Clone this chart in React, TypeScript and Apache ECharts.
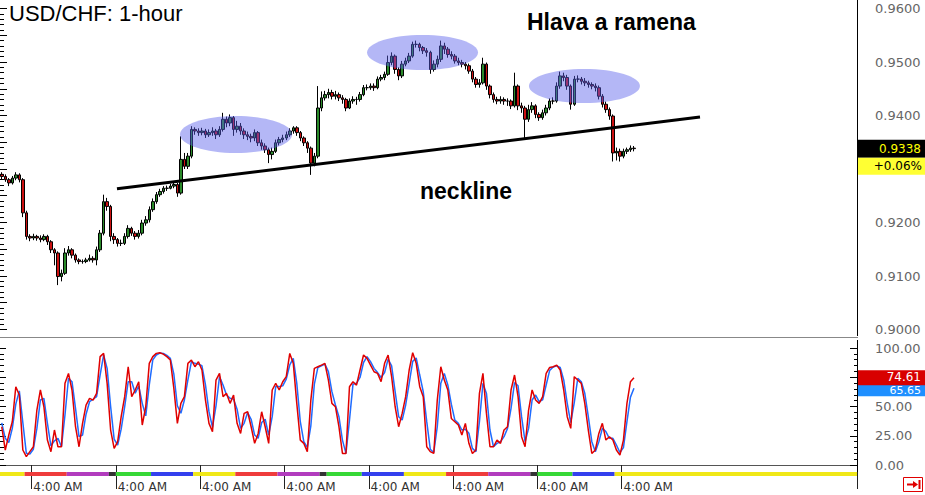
import React, { useEffect, useRef } from "react";
import * as echarts from "echarts";

// ---------- axis categories (hourly bars, first bar = 7 PM) ----------
const SLOTS = 244;
const FIRST_HOUR = 19;
const hourOf = (i: number) => (FIRST_HOUR + i) % 24;
const categories: string[] = Array.from({ length: SLOTS }, (_, i) => {
  const h = hourOf(i);
  const h12 = h % 12 === 0 ? 12 : h % 12;
  return `${h12}:00 ${h < 12 ? "AM" : "PM"}`;
});

// ---------- price data (USD/CHF 1-hour) ----------
const firstOpen = 0.929;
const closes = [
  0.9286, 0.9280, 0.9274, 0.9283, 0.9289, 0.9280, 0.9218, 0.9174, 0.9171, 0.9174,
  0.9171, 0.9168, 0.9174, 0.9164, 0.9149, 0.9143, 0.9099, 0.9105, 0.9143, 0.9149,
  0.9139, 0.9130, 0.9127, 0.9127, 0.9130, 0.9133, 0.9130, 0.9149, 0.9180, 0.9239,
  0.9230, 0.9174, 0.9168, 0.9161, 0.9161, 0.9174, 0.9189, 0.9180, 0.9174, 0.9180,
  0.9199, 0.9205, 0.9224, 0.9239, 0.9252, 0.9258, 0.9264, 0.9264, 0.9268, 0.9271,
  0.9255, 0.9318, 0.9305, 0.9324, 0.9374, 0.9371, 0.9368, 0.9371, 0.9364, 0.9368,
  0.9371, 0.9364, 0.9374, 0.9393, 0.9386, 0.9396, 0.9374, 0.9380, 0.9371, 0.9364,
  0.9361, 0.9358, 0.9368, 0.9349, 0.9343, 0.9336, 0.9327, 0.9333, 0.9349, 0.9355,
  0.9358, 0.9364, 0.9371, 0.9377, 0.9368, 0.9358, 0.9349, 0.9339, 0.9311, 0.9324,
  0.9414, 0.9433, 0.9439, 0.9443, 0.9436, 0.9439, 0.9433, 0.9430, 0.9414, 0.9427,
  0.9430, 0.9430, 0.9439, 0.9452, 0.9452, 0.9455, 0.9452, 0.9468, 0.9471, 0.9477,
  0.9499, 0.9511, 0.9486, 0.9474, 0.9496, 0.9502, 0.9511, 0.9533, 0.9533, 0.9527,
  0.9521, 0.9518, 0.9486, 0.9496, 0.9505, 0.9530, 0.9524, 0.9514, 0.9511, 0.9502,
  0.9499, 0.9496, 0.9493, 0.9483, 0.9468, 0.9458, 0.9461, 0.9496, 0.9455, 0.9439,
  0.9430, 0.9427, 0.9430, 0.9427, 0.9427, 0.9418, 0.9455, 0.9418, 0.9414, 0.9393,
  0.9411, 0.9418, 0.9402, 0.9396, 0.9405, 0.9414, 0.9427, 0.9427, 0.9455, 0.9474,
  0.9471, 0.9455, 0.9421, 0.9468, 0.9468, 0.9464, 0.9461, 0.9458, 0.9455, 0.9452,
  0.9436, 0.9421, 0.9411, 0.9399, 0.9330, 0.9333, 0.9324, 0.9333, 0.9336, 0.9339,
  0.9338,
];
const highs = [
  0.9294, 0.9290, 0.9283, 0.9287, 0.9294, 0.9292, 0.9283, 0.9222, 0.9178, 0.9179,
  0.9177, 0.9176, 0.9178, 0.9177, 0.9167, 0.9152, 0.9146, 0.9112, 0.9152, 0.9156,
  0.9152, 0.9142, 0.9133, 0.9131, 0.9134, 0.9140, 0.9137, 0.9155, 0.9186, 0.9252,
  0.9246, 0.9233, 0.9180, 0.9171, 0.9168, 0.9180, 0.9195, 0.9192, 0.9184, 0.9186,
  0.9205, 0.9212, 0.9230, 0.9245, 0.9257, 0.9263, 0.9268, 0.9269, 0.9272, 0.9276,
  0.9274, 0.9361, 0.9330, 0.9330, 0.9380, 0.9378, 0.9376, 0.9377, 0.9375, 0.9374,
  0.9378, 0.9375, 0.9380, 0.9405, 0.9398, 0.9402, 0.9399, 0.9390, 0.9386, 0.9376,
  0.9370, 0.9366, 0.9374, 0.9371, 0.9355, 0.9348, 0.9340, 0.9340, 0.9355, 0.9360,
  0.9364, 0.9370, 0.9376, 0.9380, 0.9380, 0.9371, 0.9361, 0.9352, 0.9342, 0.9330,
  0.9455, 0.9445, 0.9446, 0.9450, 0.9448, 0.9446, 0.9443, 0.9438, 0.9433, 0.9432,
  0.9436, 0.9435, 0.9444, 0.9457, 0.9458, 0.9460, 0.9460, 0.9473, 0.9476, 0.9482,
  0.9512, 0.9518, 0.9514, 0.9490, 0.9502, 0.9508, 0.9517, 0.9538, 0.9540, 0.9536,
  0.9530, 0.9526, 0.9521, 0.9503, 0.9512, 0.9540, 0.9536, 0.9528, 0.9520, 0.9515,
  0.9508, 0.9504, 0.9500, 0.9497, 0.9487, 0.9472, 0.9468, 0.9508, 0.9499, 0.9458,
  0.9443, 0.9435, 0.9436, 0.9434, 0.9432, 0.9430, 0.9480, 0.9458, 0.9424, 0.9418,
  0.9420, 0.9425, 0.9421, 0.9406, 0.9411, 0.9420, 0.9432, 0.9434, 0.9462, 0.9482,
  0.9480, 0.9476, 0.9458, 0.9474, 0.9475, 0.9472, 0.9470, 0.9465, 0.9462, 0.9460,
  0.9456, 0.9440, 0.9426, 0.9415, 0.9402, 0.9340, 0.9338, 0.9338, 0.9340, 0.9344,
  0.9343,
];
const lows = [
  0.9281, 0.9276, 0.9268, 0.9271, 0.9279, 0.9275, 0.9210, 0.9168, 0.9165, 0.9167,
  0.9166, 0.9163, 0.9165, 0.9158, 0.9143, 0.9120, 0.9083, 0.9090, 0.9102, 0.9138,
  0.9133, 0.9125, 0.9122, 0.9123, 0.9124, 0.9127, 0.9125, 0.9120, 0.9145, 0.9176,
  0.9222, 0.9165, 0.9160, 0.9155, 0.9156, 0.9158, 0.9170, 0.9175, 0.9168, 0.9170,
  0.9176, 0.9194, 0.9200, 0.9220, 0.9235, 0.9248, 0.9254, 0.9259, 0.9262, 0.9264,
  0.9248, 0.9252, 0.9300, 0.9300, 0.9320, 0.9364, 0.9362, 0.9363, 0.9358, 0.9360,
  0.9362, 0.9356, 0.9360, 0.9370, 0.9378, 0.9380, 0.9362, 0.9368, 0.9364, 0.9356,
  0.9354, 0.9350, 0.9352, 0.9343, 0.9336, 0.9330, 0.9311, 0.9318, 0.9330, 0.9344,
  0.9350, 0.9354, 0.9360, 0.9366, 0.9362, 0.9352, 0.9343, 0.9330, 0.9289, 0.9305,
  0.9320, 0.9408, 0.9428, 0.9432, 0.9430, 0.9430, 0.9427, 0.9422, 0.9408, 0.9412,
  0.9422, 0.9420, 0.9426, 0.9436, 0.9447, 0.9448, 0.9446, 0.9449, 0.9464, 0.9466,
  0.9474, 0.9494, 0.9478, 0.9466, 0.9470, 0.9492, 0.9498, 0.9508, 0.9527, 0.9520,
  0.9515, 0.9510, 0.9478, 0.9482, 0.9490, 0.9500, 0.9515, 0.9508, 0.9505, 0.9497,
  0.9494, 0.9490, 0.9486, 0.9478, 0.9462, 0.9452, 0.9452, 0.9458, 0.9448, 0.9432,
  0.9424, 0.9421, 0.9422, 0.9420, 0.9418, 0.9412, 0.9415, 0.9410, 0.9405, 0.9358,
  0.9388, 0.9405, 0.9395, 0.9390, 0.9392, 0.9400, 0.9410, 0.9421, 0.9424, 0.9450,
  0.9464, 0.9448, 0.9411, 0.9418, 0.9462, 0.9458, 0.9455, 0.9452, 0.9449, 0.9445,
  0.9430, 0.9415, 0.9405, 0.9392, 0.9314, 0.9316, 0.9314, 0.9320, 0.9328, 0.9332,
  0.9333,
];
const priceChange = "+0.06%";

// ---------- stochastic oscillator ----------
const stochK = [
  32.7, 12.8, 25.6, 37.0, 66.9, 59.8, 12.8, 7.1, 11.4, 15.6,
  47.0, 64.1, 49.8, 21.3, 11.4, 29.9, 15.6, 15.6, 69.8, 78.3,
  64.1, 32.7, 15.6, 35.6, 51.2, 56.9, 55.5, 61.2, 92.6, 95.4,
  69.8, 29.9, 14.2, 19.9, 41.3, 58.4, 84.0, 58.4, 64.1, 71.2,
  34.2, 49.8, 86.9, 92.6, 95.4, 96.0, 94.8, 92.6, 89.7, 65.5,
  35.6, 52.7, 58.4, 86.9, 89.7, 84.0, 88.3, 81.2, 55.5, 35.6,
  28.5, 72.6, 78.3, 58.4, 61.2, 52.7, 59.8, 35.6, 27.0, 44.1,
  45.5, 32.7, 18.5, 27.0, 45.5, 32.7, 18.5, 64.1, 69.8, 64.1,
  71.2, 75.5, 95.4, 86.9, 52.7, 21.3, 18.5, 11.4, 55.5, 82.6,
  84.0, 85.4, 86.9, 72.6, 52.7, 49.8, 32.7, 9.9, 9.9, 66.9,
  71.2, 68.3, 81.2, 94.0, 91.1, 85.4, 79.7, 78.3, 71.2, 86.9,
  94.0, 75.5, 49.8, 32.7, 44.1, 58.4, 81.2, 96.0, 86.9, 66.9,
  58.4, 15.6, 11.4, 9.9, 55.5, 84.0, 72.6, 64.1, 39.8, 37.0,
  34.2, 25.6, 35.6, 18.5, 9.9, 12.8, 61.2, 78.3, 44.1, 15.6,
  15.6, 21.3, 18.5, 29.9, 32.7, 64.1, 76.9, 58.4, 24.2, 15.6,
  47.0, 64.1, 55.5, 52.7, 58.4, 78.3, 83.4, 84.0, 85.4, 81.2,
  64.1, 41.3, 31.3, 75.5, 72.6, 69.8, 52.7, 29.9, 9.9, 12.8,
  27.0, 35.6, 21.3, 24.2, 21.3, 12.8, 8.5, 21.3, 52.7, 71.2,
  74.61,
];
const stochD = [
  36.0, 22.8, 19.2, 31.3, 52.0, 63.4, 36.3, 10.0, 9.3, 13.5,
  31.3, 55.6, 57.0, 35.6, 16.4, 20.7, 22.8, 15.6, 42.7, 74.1,
  71.2, 48.4, 24.2, 25.6, 43.4, 54.1, 56.2, 58.4, 76.9, 94.0,
  82.6, 49.9, 22.1, 17.1, 30.6, 49.9, 71.2, 71.2, 61.3, 67.7,
  52.7, 42.0, 68.4, 89.8, 94.0, 95.7, 95.4, 93.7, 91.2, 77.6,
  50.6, 44.2, 55.6, 72.7, 88.3, 86.9, 86.2, 84.8, 68.4, 45.6,
  32.1, 50.6, 75.5, 68.4, 59.8, 57.0, 56.3, 47.7, 31.3, 35.6,
  44.8, 39.1, 25.6, 22.8, 36.3, 39.1, 25.6, 41.3, 67.0, 67.0,
  67.7, 73.4, 85.5, 91.2, 69.8, 37.0, 19.9, 15.0, 33.5, 69.1,
  83.3, 84.7, 86.2, 79.8, 62.7, 51.3, 41.3, 21.3, 9.9, 38.4,
  69.1, 69.8, 74.8, 87.6, 92.6, 88.3, 82.6, 79.0, 74.8, 79.1,
  90.5, 84.8, 62.7, 41.3, 38.4, 51.3, 69.8, 88.6, 91.5, 76.9,
  62.7, 37.0, 13.5, 10.7, 32.7, 69.8, 78.3, 68.4, 52.0, 38.4,
  35.6, 29.9, 30.6, 27.1, 14.2, 11.4, 37.0, 69.8, 61.2, 29.9,
  15.6, 18.5, 19.9, 24.2, 31.3, 48.4, 70.5, 67.7, 41.3, 19.9,
  31.3, 55.6, 59.8, 54.1, 55.6, 68.4, 80.9, 83.7, 84.7, 83.3,
  72.7, 52.7, 36.3, 53.4, 74.1, 71.2, 61.3, 41.3, 19.9, 11.4,
  19.9, 31.3, 28.5, 22.8, 22.8, 17.1, 10.7, 14.9, 37.0, 58.0,
  65.65,
];

// ---------- annotations (bar index, price) ----------
const neckline = [
  [32.8, 0.9263],
  [198.8, 0.9397],
];
// [centre index, centre price, half-width in bars, half-height in price]
const shoulders = [
  [66.7, 0.93645, 15.95, 0.00346],
  [119.8, 0.95178, 15.8, 0.00327],
  [165.9, 0.94551, 15.8, 0.00318],
];

// ---------- trading-session strip ----------
const sessionColors = ["#f0e818", "#ef3c3c", "#b23cbe", "#333333", "#36d836", "#3340ee"];
const sessions = [
  [0, 7, 0], [7, 19, 1], [19, 31, 2], [31, 33, 3], [33, 43, 4], [43, 55, 5],
  [55, 67, 0], [67, 79, 1], [79, 91, 2], [91, 93, 3], [93, 103, 4], [103, 115, 5],
  [115, 127, 0], [127, 139, 1], [139, 151, 2], [151, 153, 3], [153, 163, 4], [163, 175, 5],
  [175, 244, 0],
];

const LAST = closes.length - 1;
const showDayMark = (i: number) => i <= LAST && hourOf(i) === 4;
const candles = closes.map((c, i) => [i === 0 ? firstOpen : closes[i - 1], c, lows[i], highs[i]]);

const axisFont = "DejaVu Sans";

function buildOption() {
  return {
    animation: false,
    backgroundColor: "#ffffff",
    grid: [
      { left: 0, top: 8.5, width: 857, height: 321, outerBoundsMode: "none" },
      { left: 0, top: 348, width: 857, height: 117, outerBoundsMode: "none" },
      { left: 0, top: 472, width: 857, height: 4, outerBoundsMode: "none" },
    ],
    xAxis: [
      { type: "category", gridIndex: 0, data: categories, boundaryGap: true, show: false },
      { type: "value", gridIndex: 0, min: -0.5, max: SLOTS - 0.5, show: false },
      {
        type: "category",
        gridIndex: 1,
        data: categories,
        boundaryGap: true,
        offset: 6,
        axisLine: { show: true, lineStyle: { color: "#555", width: 1 } },
        axisTick: {
          show: true,
          interval: (i: number) => showDayMark(i),
          length: 24,
          lineStyle: { color: "#222", width: 1 },
        },
        axisLabel: {
          show: true,
          interval: (i: number) => showDayMark(i),
          align: "left",
          margin: 10,
          fontFamily: axisFont,
          fontSize: 12,
          color: "#333",
        },
        splitLine: { show: false },
      },
      { type: "value", gridIndex: 2, min: 0, max: SLOTS, show: false },
    ],
    yAxis: [
      {
        type: "value",
        gridIndex: 0,
        position: "right",
        min: 0.9,
        max: 0.96,
        interval: 0.01,
        axisLine: { show: false },
        axisTick: { show: true, inside: true, length: 7, lineStyle: { color: "#000" } },
        minorTick: { show: true, splitNumber: 10, length: 3, lineStyle: { color: "#000" } },
        axisLabel: {
          margin: 18,
          fontFamily: axisFont,
          fontSize: 13,
          color: "#666",
          // the label under the last-price tag is covered by it
          formatter: (v: number) => (Math.abs(v - closes[LAST]) < 0.005 ? "" : v.toFixed(4)),
        },
        splitLine: { show: false },
      },
      {
        type: "value",
        gridIndex: 0,
        position: "left",
        min: 0.9,
        max: 0.96,
        interval: 0.005,
        axisLine: { show: false },
        axisTick: { show: true, inside: true, length: 7, lineStyle: { color: "#000" } },
        minorTick: { show: true, splitNumber: 5, length: 4, lineStyle: { color: "#000" } },
        axisLabel: { show: false },
        splitLine: { show: false },
      },
      {
        type: "value",
        gridIndex: 1,
        position: "right",
        min: 0,
        max: 100,
        interval: 25,
        axisLine: { show: false },
        axisTick: { show: true, inside: true, length: 7, lineStyle: { color: "#000" } },
        minorTick: { show: true, splitNumber: 5, length: 3, lineStyle: { color: "#000" } },
        axisLabel: {
          margin: 18,
          fontFamily: axisFont,
          fontSize: 13,
          color: "#666",
          // the label under the oscillator tags is covered by them
          formatter: (v: number) => (Math.abs(v - stochK[LAST]) < 10 ? "" : v.toFixed(2)),
        },
        splitLine: { show: false },
      },
      {
        type: "value",
        gridIndex: 1,
        position: "left",
        min: 0,
        max: 100,
        interval: 25,
        axisLine: { show: false },
        axisTick: { show: true, inside: true, length: 6, lineStyle: { color: "#000" } },
        minorTick: { show: true, splitNumber: 5, length: 4, lineStyle: { color: "#000" } },
        axisLabel: { show: false },
        splitLine: { show: false },
      },
      { type: "value", gridIndex: 2, min: 0, max: 1, show: false },
    ],
    series: [
      {
        type: "candlestick",
        xAxisIndex: 0,
        yAxisIndex: 0,
        data: candles,
        barWidth: 3,
        z: 2,
        itemStyle: {
          color: "#2a8a2a",
          color0: "#cc1111",
          borderColor: "#000",
          borderColor0: "#000",
          borderWidth: 1,
        },
      },
      {
        type: "custom",
        xAxisIndex: 1,
        yAxisIndex: 0,
        data: shoulders,
        z: 4,
        clip: false,
        silent: true,
        renderItem: (_p: any, api: any) => {
          const c = api.coord([api.value(0), api.value(1)]);
          const s = api.size([api.value(2), api.value(3)]);
          return {
            type: "ellipse",
            shape: { cx: c[0], cy: c[1], rx: s[0], ry: s[1] },
            style: { fill: "rgba(88,96,236,0.45)" },
          };
        },
      },
      {
        type: "line",
        xAxisIndex: 1,
        yAxisIndex: 0,
        data: neckline,
        symbol: "none",
        z: 5,
        lineStyle: { color: "#000", width: 3 },
      },
      {
        type: "line",
        xAxisIndex: 2,
        yAxisIndex: 2,
        data: stochD,
        symbol: "none",
        z: 2,
        lineStyle: { color: "#1f6cff", width: 1.5 },
      },
      {
        type: "line",
        xAxisIndex: 2,
        yAxisIndex: 2,
        data: stochK,
        symbol: "none",
        z: 3,
        lineStyle: { color: "#e00000", width: 1.5 },
      },
      {
        type: "custom",
        xAxisIndex: 3,
        yAxisIndex: 4,
        data: sessions,
        encode: { x: [0, 1] },
        clip: false,
        silent: true,
        z: 6,
        renderItem: (_p: any, api: any) => {
          const a = api.coord([api.value(0), 1]);
          const b = api.coord([api.value(1), 0]);
          return {
            type: "rect",
            shape: { x: a[0], y: a[1], width: b[0] - a[0], height: b[1] - a[1] },
            style: { fill: sessionColors[api.value(2)] },
          };
        },
      },
    ],
  };
}

function buildGraphic(yPrice: number, yK: number, yD: number) {
  const sans = '"Liberation Sans", Arial, sans-serif';
  return [
    // panel frames
    { type: "line", z: 20, shape: { x1: 857.5, y1: 0, x2: 857.5, y2: 336 }, style: { stroke: "#000", lineWidth: 1 } },
    { type: "line", z: 20, shape: { x1: 0, y1: 337.5, x2: 858, y2: 337.5 }, style: { stroke: "#888", lineWidth: 1 } },
    { type: "line", z: 20, shape: { x1: 857.5, y1: 340, x2: 857.5, y2: 472 }, style: { stroke: "#000", lineWidth: 1 } },
    // last price tag
    { type: "rect", z: 21, shape: { x: 858, y: yPrice - 9, width: 67, height: 18 }, style: { fill: "#000" } },
    { type: "text", z: 22, x: 921, y: yPrice, style: { text: closes[LAST].toFixed(4), fill: "#ffff00", font: `12px "${axisFont}"`, align: "right", verticalAlign: "middle" } },
    { type: "rect", z: 21, shape: { x: 858, y: yPrice + 9, width: 67, height: 17 }, style: { fill: "#ffff33" } },
    { type: "text", z: 22, x: 922, y: yPrice + 17.5, style: { text: priceChange, fill: "#000", font: `12px "${axisFont}"`, align: "right", verticalAlign: "middle" } },
    // stochastic tags (the %D tag is partly hidden under the %K tag, as in the source)
    { type: "rect", z: 21, shape: { x: 858, y: yD - 6, width: 67, height: 14 }, style: { fill: "#1e8fff" } },
    { type: "text", z: 22, x: 921, y: yD + 2.5, style: { text: stochD[LAST].toFixed(2), fill: "#fff", font: `11px "${axisFont}"`, align: "right", verticalAlign: "middle" } },
    { type: "rect", z: 23, shape: { x: 858, y: yK - 7.5, width: 67, height: 15 }, style: { fill: "#d80000" } },
    { type: "text", z: 24, x: 921, y: yK - 0.5, style: { text: stochK[LAST].toFixed(2), fill: "#fff", font: `12px "${axisFont}"`, align: "right", verticalAlign: "middle" } },
    // shift button
    { type: "rect", z: 21, shape: { x: 903.5, y: 477.5, width: 19, height: 14 }, style: { fill: "#fff", stroke: "#e00000", lineWidth: 1 } },
    { type: "line", z: 22, shape: { x1: 907, y1: 484.5, x2: 915, y2: 484.5 }, style: { stroke: "#e00000", lineWidth: 2 } },
    { type: "polygon", z: 22, shape: { points: [[913, 481], [918, 484.5], [913, 488]] }, style: { fill: "#e00000" } },
    { type: "line", z: 22, shape: { x1: 919.5, y1: 480, x2: 919.5, y2: 489 }, style: { stroke: "#e00000", lineWidth: 2 } },
    // texts
    { type: "text", z: 25, x: 9, y: 13.5, style: { text: "USD/CHF: 1-hour", fill: "#000", font: `22px ${sans}`, verticalAlign: "middle" } },
    { type: "text", z: 25, x: 527, y: 21.5, style: { text: "Hlava a ramena", fill: "#000", font: `bold 23px ${sans}`, verticalAlign: "middle" } },
    { type: "text", z: 25, x: 420, y: 191, style: { text: "neckline", fill: "#000", font: `bold 23px ${sans}`, verticalAlign: "middle" } },
  ];
}

export default function App() {
  const ref = useRef<HTMLDivElement>(null);
  useEffect(() => {
    if (!ref.current) return;
    const chart = echarts.init(ref.current, null, { renderer: "svg" });
    chart.setOption(buildOption() as any);
    const yPrice = chart.convertToPixel({ yAxisIndex: 0 } as any, closes[LAST]) as unknown as number;
    const yK = chart.convertToPixel({ yAxisIndex: 2 } as any, stochK[LAST]) as unknown as number;
    const yD = chart.convertToPixel({ yAxisIndex: 2 } as any, stochD[LAST]) as unknown as number;
    chart.setOption({ graphic: buildGraphic(yPrice, yK, yD) } as any);
    return () => chart.dispose();
  }, []);
  return (
    <div
      ref={ref}
      style={{ position: "absolute", left: 0, top: 0, width: 925, height: 495, background: "#fff" }}
    />
  );
}
